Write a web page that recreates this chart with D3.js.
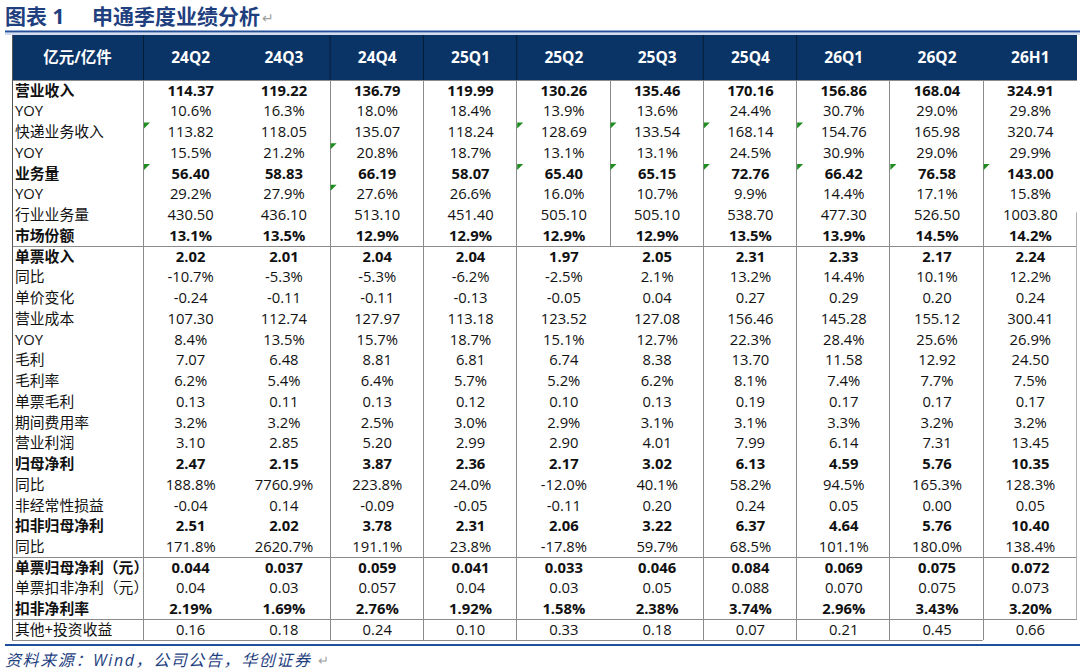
<!DOCTYPE html>
<html>
<head>
<meta charset="utf-8">
<script src="https://cdn.jsdelivr.net/npm/d3@7"></script>
<style>
  body { margin: 0; background: #fff; }
  svg text { font-family: "Open Sans", "Noto Sans CJK SC", sans-serif; }
</style>
</head>
<body>
<div id="chart"></div>
<script>
// ---------- DATA ----------
const columns = ["24Q2", "24Q3", "24Q4", "25Q1", "25Q2", "25Q3", "25Q4", "26Q1", "26Q2", "26H1"];

// revenue & volume block
const revenueRows = [
	["营业收入", ["114.37", "119.22", "136.79", "119.99", "130.26", "135.46", "170.16", "156.86", "168.04", "324.91"]],
	["YOY", ["10.6%", "16.3%", "18.0%", "18.4%", "13.9%", "13.6%", "24.4%", "30.7%", "29.0%", "29.8%"]],
	["快递业务收入", ["113.82", "118.05", "135.07", "118.24", "128.69", "133.54", "168.14", "154.76", "165.98", "320.74"]],
	["YOY", ["15.5%", "21.2%", "20.8%", "18.7%", "13.1%", "13.1%", "24.5%", "30.9%", "29.0%", "29.9%"]],
	["业务量", ["56.40", "58.83", "66.19", "58.07", "65.40", "65.15", "72.76", "66.42", "76.58", "143.00"]],
	["YOY", ["29.2%", "27.9%", "27.6%", "26.6%", "16.0%", "10.7%", "9.9%", "14.4%", "17.1%", "15.8%"]],
	["行业业务量", ["430.50", "436.10", "513.10", "451.40", "505.10", "505.10", "538.70", "477.30", "526.50", "1003.80"]],
	["市场份额", ["13.1%", "13.5%", "12.9%", "12.9%", "12.9%", "12.9%", "13.5%", "13.9%", "14.5%", "14.2%"]],
];

// unit economics & profit block
const profitRows = [
	["单票收入", ["2.02", "2.01", "2.04", "2.04", "1.97", "2.05", "2.31", "2.33", "2.17", "2.24"]],
	["同比", ["-10.7%", "-5.3%", "-5.3%", "-6.2%", "-2.5%", "2.1%", "13.2%", "14.4%", "10.1%", "12.2%"]],
	["单价变化", ["-0.24", "-0.11", "-0.11", "-0.13", "-0.05", "0.04", "0.27", "0.29", "0.20", "0.24"]],
	["营业成本", ["107.30", "112.74", "127.97", "113.18", "123.52", "127.08", "156.46", "145.28", "155.12", "300.41"]],
	["YOY", ["8.4%", "13.5%", "15.7%", "18.7%", "15.1%", "12.7%", "22.3%", "28.4%", "25.6%", "26.9%"]],
	["毛利", ["7.07", "6.48", "8.81", "6.81", "6.74", "8.38", "13.70", "11.58", "12.92", "24.50"]],
	["毛利率", ["6.2%", "5.4%", "6.4%", "5.7%", "5.2%", "6.2%", "8.1%", "7.4%", "7.7%", "7.5%"]],
	["单票毛利", ["0.13", "0.11", "0.13", "0.12", "0.10", "0.13", "0.19", "0.17", "0.17", "0.17"]],
	["期间费用率", ["3.2%", "3.2%", "2.5%", "3.0%", "2.9%", "3.1%", "3.1%", "3.3%", "3.2%", "3.2%"]],
	["营业利润", ["3.10", "2.85", "5.20", "2.99", "2.90", "4.01", "7.99", "6.14", "7.31", "13.45"]],
	["归母净利", ["2.47", "2.15", "3.87", "2.36", "2.17", "3.02", "6.13", "4.59", "5.76", "10.35"]],
	["同比", ["188.8%", "7760.9%", "223.8%", "24.0%", "-12.0%", "40.1%", "58.2%", "94.5%", "165.3%", "128.3%"]],
	["非经常性损益", ["-0.04", "0.14", "-0.09", "-0.05", "-0.11", "0.20", "0.24", "0.05", "0.00", "0.05"]],
	["扣非归母净利", ["2.51", "2.02", "3.78", "2.31", "2.06", "3.22", "6.37", "4.64", "5.76", "10.40"]],
	["同比", ["171.8%", "2620.7%", "191.1%", "23.8%", "-17.8%", "59.7%", "68.5%", "101.1%", "180.0%", "138.4%"]],
];

// per-ticket block
const perTicketRows = [
	["单票归母净利（元）", ["0.044", "0.037", "0.059", "0.041", "0.033", "0.046", "0.084", "0.069", "0.075", "0.072"]],
	["单票扣非净利（元）", ["0.04", "0.03", "0.057", "0.04", "0.03", "0.05", "0.088", "0.070", "0.075", "0.073"]],
	["扣非净利率", ["2.19%", "1.69%", "2.76%", "1.92%", "1.58%", "2.38%", "3.74%", "2.96%", "3.43%", "3.20%"]],
];
const otherRows = [
	["其他+投资收益", ["0.16", "0.18", "0.24", "0.10", "0.33", "0.18", "0.07", "0.21", "0.45", "0.66"]],
];

const boldRows = [0, 4, 7, 8, 18, 21, 23, 25];
// little green "number as text" flags: [column, row]
const flags = [
	["24Q2", 2], ["24Q2", 4], ["24Q4", 3], ["24Q4", 5],
	["25Q2", 2], ["25Q2", 4], ["25Q3", 2], ["25Q3", 4],
	["25Q4", 2], ["25Q4", 4], ["26Q1", 2], ["26Q1", 4],
	["26Q2", 4], ["26H1", 4],
];

const rows = [...revenueRows, ...profitRows, ...perTicketRows, ...otherRows];

// ---------- LAYOUT ----------
const W = 1080, H = 672;
const left = 12, labelW = 143, right = 1076;
const headTop = 35, headBot = 80, tableBot = 640;
const navy = "#0b3466";
const titleBlue = "#1f3f7f";
const grid = "#8c8c8c";

const svg = d3.select("#chart").append("svg")
	.attr("width", W).attr("height", H)
	.style("background", "#fff");

const x = d3.scaleBand().domain(columns).range([labelW, right]);
const y = d3.scaleBand().domain(d3.range(rows.length)).range([headBot, tableBot]);

// ---------- TITLE ----------
const title = svg.append("g").attr("font-weight", 700).attr("font-size", 21).attr("fill", titleBlue);
title.append("text").attr("x", 5).attr("y", 24).text("图表 1");
title.append("text").attr("x", 92).attr("y", 24).text("申通季度业绩分析");
svg.append("text").attr("x", 262).attr("y", 23).attr("font-size", 14).attr("fill", "#a0a0a0").text("↵");

svg.append("line").attr("x1", 5).attr("x2", W).attr("y1", 31.5).attr("y2", 31.5)
	.attr("stroke", "#27509b").attr("stroke-width", 2.2);
svg.append("line").attr("x1", 5).attr("x2", W).attr("y1", 34).attr("y2", 34)
	.attr("stroke", "#a9bbdc").attr("stroke-width", 1);

// ---------- HEADER ----------
svg.append("rect").attr("x", left).attr("y", headTop)
	.attr("width", right - left + 1).attr("height", headBot - headTop).attr("fill", navy);

const headSeps = ["24Q2", "24Q4", "25Q1", "25Q2", "25Q4", "26Q1"];
svg.append("g").selectAll("line").data(headSeps).join("line")
	.attr("x1", (d) => x(d) + 0.5).attr("x2", (d) => x(d) + 0.5)
	.attr("y1", headTop).attr("y2", headBot)
	.attr("stroke", "#061d3a").attr("stroke-width", 1);

const head = svg.append("g").attr("fill", "#fff").attr("font-weight", 700).attr("font-size", 15.5)
	.attr("text-anchor", "middle");
head.append("text").attr("x", (left + labelW) / 2).attr("y", (headTop + headBot) / 2).attr("dy", "0.36em").text("亿元/亿件");
head.selectAll("text.col").data(columns).join("text").attr("class", "col")
	.attr("x", (d) => x(d) + x.bandwidth() / 2 + 1)
	.attr("y", (headTop + headBot) / 2).attr("dy", "0.36em")
	.text((d) => d);

// ---------- GRID ----------
const gridG = svg.append("g").attr("stroke", grid).attr("stroke-width", 1).attr("fill", "none");
const hline = (yy, x1, x2, c) => gridG.append("line").attr("x1", x1).attr("x2", x2)
	.attr("y1", Math.round(yy) + 0.5).attr("y2", Math.round(yy) + 0.5).attr("stroke", c || grid);
const vline = (xx, y1, y2, c) => gridG.append("line").attr("x1", Math.round(xx) + 0.5).attr("x2", Math.round(xx) + 0.5)
	.attr("y1", y1).attr("y2", y2).attr("stroke", c || grid);

hline(headBot, left, right + 1);
// section separators
const sepAfter = [revenueRows.length - 1, revenueRows.length + profitRows.length - 1, rows.length - 2];
sepAfter.forEach((i) => hline(y(i) + y.bandwidth(), left, right + 1));
hline(tableBot, left, x("26H1"));

vline(left, headTop, tableBot, "#555");
["24Q2", "24Q4", "25Q1", "25Q2", "25Q4", "26Q1", "26Q2", "26H1"].forEach((c) =>
	vline(x(c), headBot, tableBot));
vline(x("25Q3"), headBot, y(revenueRows.length - 1) + y.bandwidth());
vline(right, y(6) + 8, y(rows.length - 2) + y.bandwidth(), "#b0b0b0");

// ---------- CELLS ----------
const body = svg.append("g").attr("font-size", 14.8).attr("fill", "#111");
const rowG = body.selectAll("g.row").data(rows).join("g").attr("class", "row")
	.attr("transform", (d, i) => `translate(0, ${y(i) + y.bandwidth() / 2})`)
	.attr("font-weight", (d, i) => (boldRows.includes(i) ? 700 : 400));

rowG.append("text").attr("x", left + 3).attr("dy", "0.36em").text((d) => d[0]);
rowG.selectAll("text.v").data((d) => d[1]).join("text").attr("class", "v")
	.attr("x", (d, j) => x(columns[j]) + x.bandwidth() / 2 + 1)
	.attr("dy", "0.36em").attr("text-anchor", "middle")
	.text((d) => d);

// green corner flags
svg.append("g").selectAll("path").data(flags).join("path")
	.attr("d", (d) => {
		const bx = x(d[0]) + 1, by = y(d[1]) + 1;
		return `M${bx},${by}L${bx + 6},${by}L${bx},${by + 6}Z`;
	})
	.attr("fill", "#1e8c1e");

// ---------- SOURCE ----------
svg.append("line").attr("x1", 5).attr("x2", W).attr("y1", 645).attr("y2", 645)
	.attr("stroke", "#1f4e9a").attr("stroke-width", 2.2);
svg.append("text").attr("x", 5).attr("y", 666)
	.attr("font-size", 16).attr("letter-spacing", 1.6).attr("font-style", "italic").attr("fill", titleBlue)
	.text("资料来源：Wind，公司公告，华创证券");
svg.append("text").attr("x", 318).attr("y", 665).attr("font-size", 13).attr("fill", "#a0a0a0").text("↵");
</script>
</body>
</html>
